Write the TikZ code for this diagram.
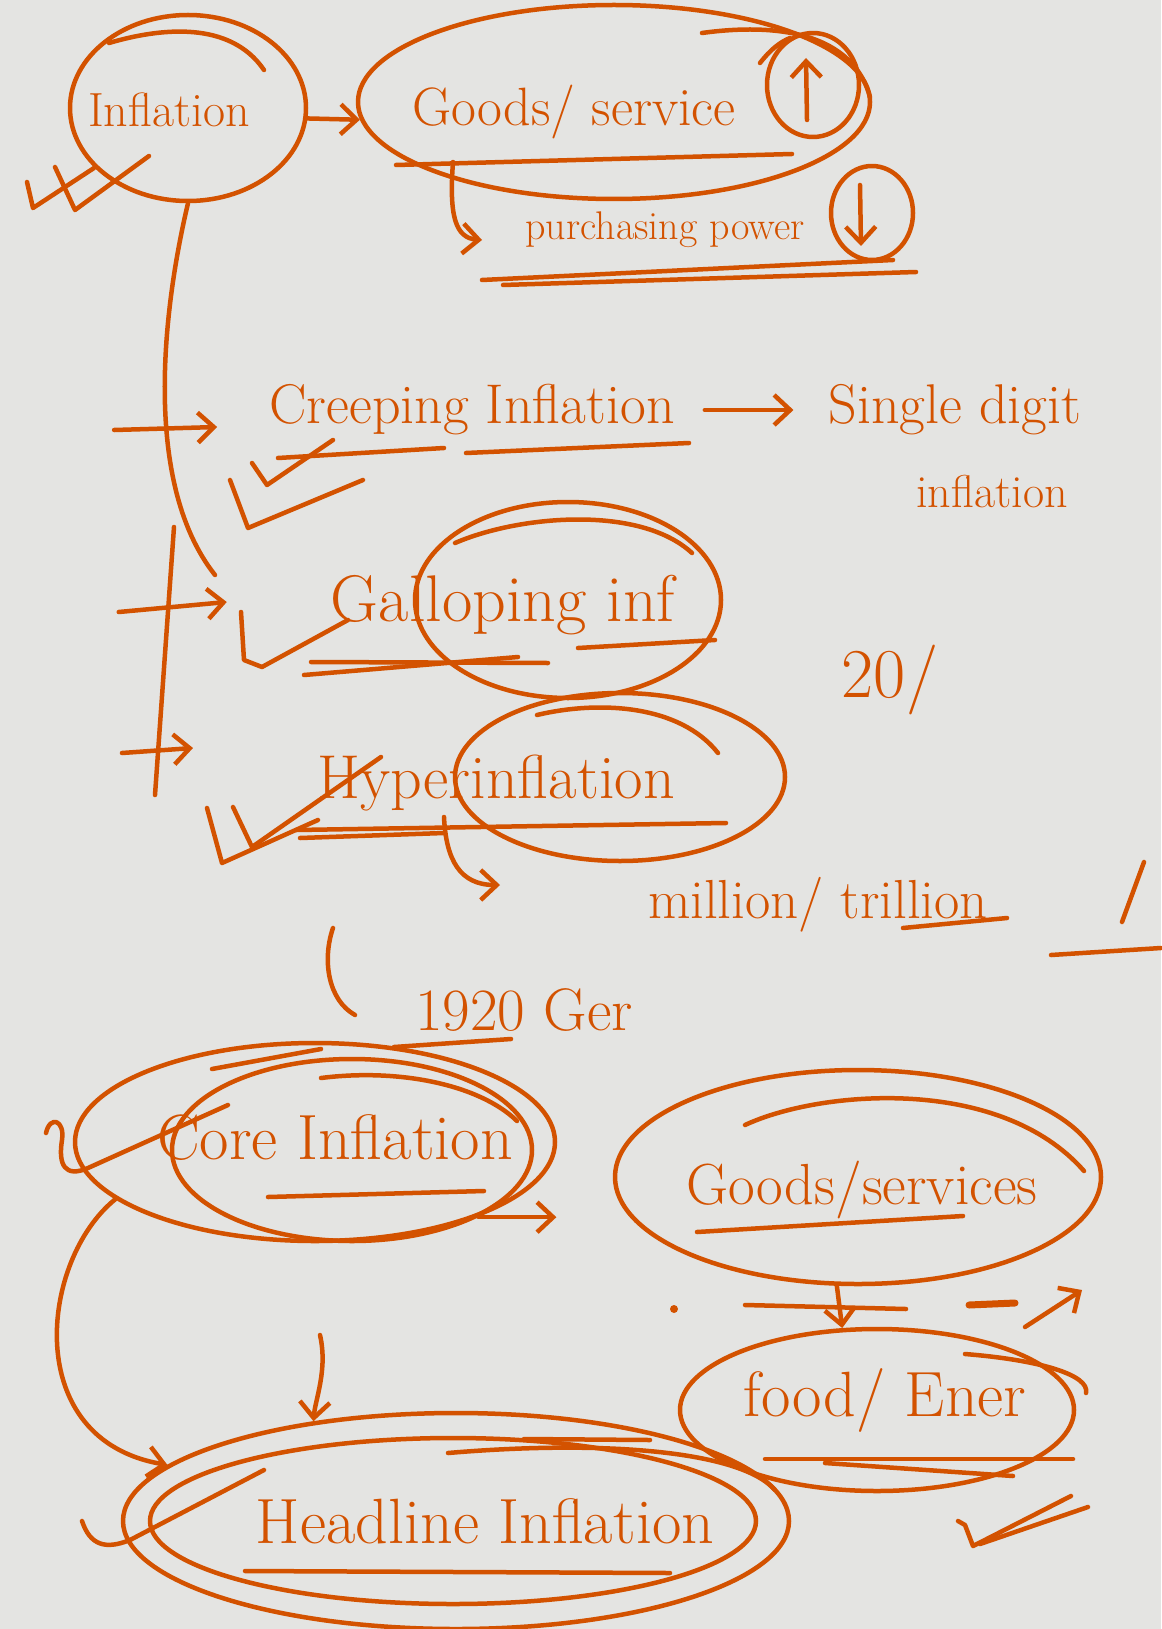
\documentclass[tikz,border=0pt]{standalone}
\usepackage{fontspec}
\usepackage{tikz}
\usetikzlibrary{arrows.meta,shapes.geometric,calc}
\definecolor{ink}{RGB}{211,82,0}
\definecolor{paper}{RGB}{228,228,226}
\tikzset{
  pen/.style={draw=ink, line width=4.5pt, line cap=round, line join=round},
  txt/.style={text=ink, inner sep=0pt, font=\fontsize{#1}{#1}\selectfont},
  loop/.style={pen, ellipse, inner sep=0pt},
  barb/.style={-{Straight Barb[length=16pt,width=30pt]}}
}
\begin{document}
\begin{tikzpicture}[x=1pt, y=-1pt]
\fill[paper] (0,0) rectangle (1161,1629);
\useasboundingbox (0,0) rectangle (1161,1629);
% top: inflation -> goods/service
\node[loop, minimum width=236, minimum height=186] (infl-o) at (188,108) {};
\node[txt=48] (infl) at (169,110) {Inflation};
\draw[pen] (109,43) .. controls (160,28) and (230,20) .. (264,70);
\draw[pen] (27,182) -- (33,208) -- (94,168);
\draw[pen] (55,167) -- (75,210) -- (149,156);
\node[loop, minimum width=512, minimum height=194] (goods-o) at (614,102) {};
\node[txt=54] (goods) at (574,112) {Goods/ service};
\draw[pen, barb] (infl-o.-5) -- (goods-o.184);
\draw[pen] (396,165) -- (792,154);
\node[loop, minimum width=92, minimum height=104] (up-o) at (813,85) {};
\draw[pen, barb] (807,120) -- (806,58);
\draw[pen] (702,33) .. controls (760,25) and (850,25) .. (870,97);
\draw[pen] (760,63) .. controls (770,50) and (780,42) .. (790,38);
\node[txt=40] (purch) at (665,230) {purchasing power};
\coordinate (gs-u) at (453,162);
\draw[pen, barb] (gs-u) .. controls (449,215) and (455,238) .. (482,240);
\node[loop, minimum width=82, minimum height=94] (down-o) at (872,213) {};
\draw[pen, barb] (860,185) -- (861,246);
\draw[pen] (482,280) -- (893,260);
\draw[pen] (503,285) -- (916,272);
% types
\draw[pen] (infl-o.south) .. controls (165,300) and (140,480) .. (215,575);
\draw[pen] (174,527) -- (155,795);
\node[txt=56] (creep) at (472,410) {Creeping Inflation};
\draw[pen, barb] ($(creep.west)+(-155,20)$) -- ($(creep.west)+(-52,17)$);
\draw[pen] (278,458) -- (444,448);
\draw[pen] (466,453) -- (689,443);
\draw[pen] (252,463) -- (267,485) -- (333,440);
\draw[pen] (230,480) -- (248,528) -- (363,480);
\node[txt=56] (single) at (955,410) {Single digit};
\node[txt=46] (single2) at (992,492) {inflation};
\draw[pen, barb, shorten <=30pt, shorten >=35pt] (creep.east) -- (single.west);
\node[txt=66] (gallop) at (503,605) {Galloping inf};
\node[loop, minimum width=306, minimum height=196] (gallop-o) at (568,600) {};
\draw[pen] (455,543) .. controls (520,515) and (640,505) .. (692,553);
\draw[pen, barb] ($(gallop.west)+(-212,7)$) -- ($(gallop.west)+(-104,-3)$);
\draw[pen] (311,662) -- (548,663);
\draw[pen] (304,675) -- (518,657);
\draw[pen] (578,648) -- (715,640);
\draw[pen] (241,612) -- (244,660) -- (262,667) -- (348,620);
\node[txt=70] (twenty) at (890,680) {20/};
\node[txt=62] (hyper) at (496,783) {Hyperinflation};
\node[loop, minimum width=330, minimum height=168] (hyper-o) at (620,777) {};
\draw[pen] (537,715) .. controls (600,700) and (680,705) .. (718,753);
\draw[pen, barb] ($(hyper.west)+(-195,-30)$) -- ($(hyper.west)+(-124,-35)$);
\draw[pen] (296,830) -- (726,823);
\draw[pen] (300,838) -- (444,833);
\draw[pen] (207,808) -- (222,863) -- (318,820);
\draw[pen] (233,807) -- (252,847) -- (381,757);
\draw[pen, barb] (444,817) .. controls (446,860) and (460,885) .. (500,885);
\node[txt=55] (million) at (818,905) {million/ trillion};
\draw[pen] (903,928) -- (1007,918);
\draw[pen] (1144,862) -- (1122,922);
\draw[pen] (1051,955) -- (1161,948);
\draw[pen] (333,928) .. controls (322,960) and (328,1000) .. (355,1015);
\node[txt=60] (ger) at (524,1010) {1920 Ger};
\draw[pen] (394,1047) -- (511,1039);
% core / headline
\node[loop, minimum width=480, minimum height=198] (core-o) at (315,1142) {};
\node[loop, minimum width=360, minimum height=182] (core-i) at (352,1150) {};
\node[txt=64] (core) at (335,1138) {Core Inflation};
\draw[pen] (212,1069) -- (321,1049);
\draw[pen] (321,1078) .. controls (400,1068) and (480,1085) .. (517,1121);
\draw[pen] (268,1197) -- (484,1191);
\draw[pen] (46,1133) .. controls (50,1115) and (65,1120) .. (62,1140) .. controls (58,1165) and (65,1178) .. (88,1168) -- (228,1105);
\draw[pen, barb] (core-i.-28) -- ++(78,0);
\node[loop, minimum width=666, minimum height=216] (head-o) at (456,1521) {};
\node[loop, minimum width=606, minimum height=166] (head-i) at (453,1521) {};
\node[txt=64] (head) at (485,1521) {Headline Inflation};
\draw[pen] (245,1571) -- (670,1573);
\draw[pen] (82,1521) .. controls (90,1545) and (105,1550) .. (130,1540) -- (264,1470);
\draw[pen] (448,1453) .. controls (600,1440) and (740,1450) .. (775,1490);
\draw[pen] (524,1439) -- (650,1440);
\draw[pen, barb] (core-o.196) .. controls (40,1260) and (20,1440) .. (head-o.169);
\coordinate (arr-top) at (320,1335);
\draw[pen, barb] (arr-top) .. controls (328,1370) and (315,1400) .. (head-o.145);
% goods/services -> food/energy
\node[loop, minimum width=486, minimum height=214] (gs2-o) at (858,1177) {};
\node[txt=58] (gs2) at (862,1190) {Goods/services};
\draw[pen] (745,1125) .. controls (820,1090) and (1000,1075) .. (1084,1171);
\draw[pen] (697,1232) -- (963,1216);
\node[loop, minimum width=394, minimum height=162] (food-o) at (877,1410) {};
\node[txt=64] (food) at (885,1400) {food/ Ener};
\draw[pen] (965,1354) .. controls (1040,1360) and (1090,1375) .. (1086,1393);
\draw[pen] (765,1459) -- (1073,1459);
\draw[pen] (825,1463) -- (1013,1476);
\draw[pen, barb] (gs2-o.259) -- (food-o.113);
\draw[pen] (745,1305) -- (906,1309);
\fill[ink] (674,1309) circle (4);
\draw[pen, line width=7pt] (969,1305) -- (1015,1303);
\draw[pen, barb] (1025,1327) -- (1082,1290);
\draw[pen] (958,1521) -- (965,1525) -- (973,1546) -- (1071,1496);
\draw[pen] (980,1544) -- (1088,1507);
\end{tikzpicture}
\end{document}
